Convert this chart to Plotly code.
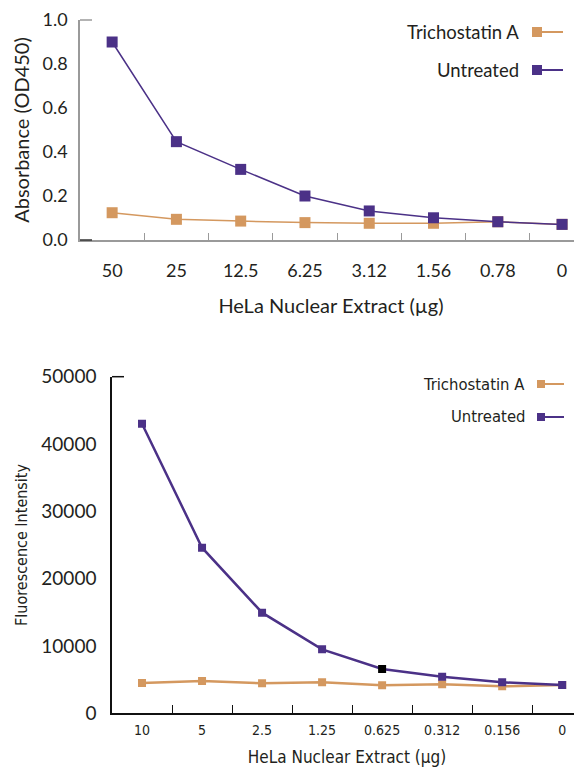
import plotly.graph_objects as go

# ---- data ----
top_categories = ["50", "25", "12.5", "6.25", "3.12", "1.56", "0.78", "0"]
top_trichostatin = [0.124, 0.094, 0.086, 0.079, 0.076, 0.076, 0.083, 0.071]
top_untreated = [0.90, 0.447, 0.321, 0.200, 0.132, 0.101, 0.083, 0.071]
top_yticks = [0.0, 0.2, 0.4, 0.6, 0.8, 1.0]

bot_categories = ["10", "5", "2.5", "1.25", "0.625", "0.312", "0.156", "0"]
bot_trichostatin = [4500, 4800, 4460, 4600, 4160, 4300, 4010, 4200]
bot_untreated = [43000, 24600, 14950, 9500, 6580, 5440, 4600, 4200]
bot_yticks = [0, 10000, 20000, 30000, 40000, 50000]

series_names = ["Trichostatin A", "Untreated"]

TAN = "#D4985F"
PURPLE = "#4B3187"
TXT = "#231F20"
FONT = "Lato"
COND = "DejaVu Sans Condensed"
OFF = 8  # page body margin
W, H = 582 - OFF, 767 - OFF

fig = go.Figure()

# top chart
fig.add_trace(go.Scatter(x=top_categories, y=top_trichostatin, name=series_names[0],
                         mode="lines+markers", line=dict(color=TAN, width=1.5),
                         marker=dict(symbol="square", size=11, color=TAN),
                         xaxis="x", yaxis="y", showlegend=False))
fig.add_trace(go.Scatter(x=top_categories, y=top_untreated, name=series_names[1],
                         mode="lines+markers", line=dict(color=PURPLE, width=1.5),
                         marker=dict(symbol="square", size=11, color=PURPLE),
                         xaxis="x", yaxis="y", showlegend=False))

# bottom chart
bot_marker_colors = [PURPLE] * len(bot_untreated)
bot_marker_colors[4] = "#000000"
fig.add_trace(go.Scatter(x=bot_categories, y=bot_trichostatin, name=series_names[0],
                         mode="lines+markers", line=dict(color=TAN, width=2.5),
                         marker=dict(symbol="square", size=8, color=TAN),
                         xaxis="x2", yaxis="y2", showlegend=False))
fig.add_trace(go.Scatter(x=bot_categories, y=bot_untreated, name=series_names[1],
                         mode="lines+markers", line=dict(color=PURPLE, width=2.5),
                         marker=dict(symbol="square", size=8, color=bot_marker_colors),
                         xaxis="x2", yaxis="y2", showlegend=False))

def px(x):
    return (x - OFF) / W

def py(y):
    return 1 - (y - OFF) / H

fig.update_layout(
    width=W, height=H,
    margin=dict(l=0, r=0, t=0, b=0),
    paper_bgcolor="white", plot_bgcolor="white",
    font=dict(family=FONT, color=TXT),
    xaxis=dict(domain=[px(80), 1], type="category", range=[-0.5, 7.31],
               showline=True, linecolor="#9a9a9a", linewidth=1.5,
               ticks="inside", tickson="boundaries", ticklen=7, tickcolor="#9a9a9a",
               showgrid=False, zeroline=False,
               tickfont=dict(size=18, color=TXT, family=FONT), ticklabelstandoff=14,
               title=dict(text="HeLa Nuclear Extract (µg)", font=dict(size=20, family=FONT), standoff=19),
               anchor="y", automargin=False),
    yaxis=dict(domain=[py(240), py(20)], range=[0, 1], tickvals=top_yticks,
               tickformat=".1f", showline=True, linecolor="#9a9a9a", linewidth=1.5,
               ticks="", showgrid=False, zeroline=False,
               tickfont=dict(size=18, color=TXT, family=FONT), ticklabelstandoff=7,
               title=dict(text="Absorbance (OD450)", font=dict(size=20, family=FONT), standoff=8),
               anchor="x", automargin=False),
    xaxis2=dict(domain=[px(112), 1], type="category", range=[-0.5, 7.33],
                showline=True, linecolor="#111", linewidth=1.5,
                ticks="inside", tickson="boundaries", ticklen=9, tickcolor="#111",
                showgrid=False, zeroline=False,
                tickfont=dict(size=14, color=TXT, family=COND), ticklabelstandoff=3,
                title=dict(text="HeLa Nuclear Extract (µg)", font=dict(size=17, family=COND), standoff=16),
                anchor="y2", automargin=False),
    yaxis2=dict(domain=[py(713.3), py(376.7)], range=[0, 50000], tickvals=bot_yticks,
                tickformat="d", showline=True, linecolor="#111", linewidth=1.5,
                ticks="", showgrid=False, zeroline=False,
                tickfont=dict(size=19, color=TXT, family=FONT), ticklabelstandoff=10,
                title=dict(text="Fluorescence Intensity", font=dict(size=16, family=COND), standoff=10),
                anchor="x2", automargin=False),
)

shapes = []
annotations = []
# axis end caps
shapes.append(dict(type="line", xref="paper", yref="paper", x0=px(80), x1=px(92), y0=py(20), y1=py(20),
                   line=dict(color="#9a9a9a", width=1.5)))
shapes.append(dict(type="line", xref="paper", yref="paper", x0=px(80), x1=px(92), y0=py(240), y1=py(240),
                   line=dict(color="#333", width=1.5)))
shapes.append(dict(type="line", xref="paper", yref="paper", x0=px(112), x1=px(124), y0=py(376.7), y1=py(376.7),
                   line=dict(color="#111", width=1.5)))

# legends (symbol to the right of text)
def legend_item(name, color, text_right, y, sq_cx, sq, line_end, lw, fsize, family):
    annotations.append(dict(text=name, xref="paper", yref="paper", x=px(text_right), y=py(y),
                            xanchor="right", yanchor="middle", showarrow=False,
                            font=dict(size=fsize, color=TXT, family=family)))
    shapes.append(dict(type="line", xref="paper", yref="paper", x0=px(sq_cx), x1=px(line_end),
                       y0=py(y), y1=py(y), line=dict(color=color, width=lw)))
    shapes.append(dict(type="rect", xref="paper", yref="paper", x0=px(sq_cx - sq / 2), x1=px(sq_cx + sq / 2),
                       y0=py(y + sq / 2), y1=py(y - sq / 2), line=dict(width=0), fillcolor=color))

legend_item(series_names[0], TAN, 521, 32, 537, 10, 563, 2, 18.5, FONT)
legend_item(series_names[1], PURPLE, 521, 70, 537, 10, 563, 2, 18.5, FONT)
legend_item(series_names[0], TAN, 527, 384, 541, 8, 564, 2, 16.5, COND)
legend_item(series_names[1], PURPLE, 527, 417, 541, 8, 564, 2, 16.5, COND)

fig.update_layout(shapes=shapes, annotations=annotations)
fig.write_html("out.html")
